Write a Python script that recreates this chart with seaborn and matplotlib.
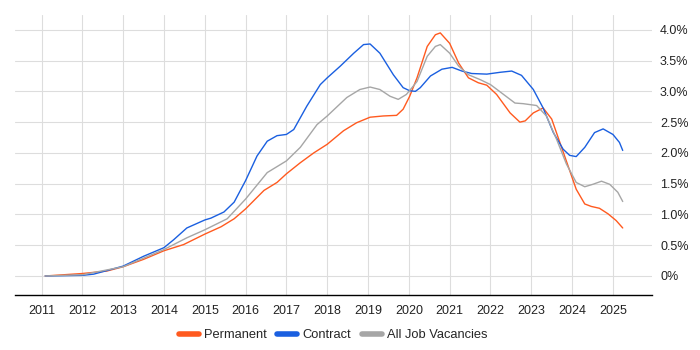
import matplotlib
matplotlib.use("Agg")
import matplotlib.pyplot as plt
import matplotlib.ticker as mticker
import pandas as pd
import seaborn as sns

# ── Values (year, percent) ────────────────────────────────────────────────────
perm_year = [2011.09, 2012.0, 2012.6, 2013.0, 2013.5, 2014.0, 2014.48, 2015.0, 2015.4,
             2015.72, 2016.0, 2016.45, 2016.77, 2017.0, 2017.34, 2017.67, 2018.0, 2018.4,
             2018.72, 2019.05, 2019.37, 2019.7, 2019.86, 2020.02, 2020.2, 2020.45, 2020.65,
             2020.77, 2021.0, 2021.22, 2021.46, 2021.7, 2021.91, 2022.15, 2022.48, 2022.72,
             2022.85, 2023.05, 2023.29, 2023.5, 2023.7, 2023.9, 2024.1, 2024.31, 2024.47,
             2024.67, 2024.88, 2025.08, 2025.24]
perm_pct = [0.0, 0.04, 0.08, 0.15, 0.27, 0.41, 0.51, 0.68, 0.80,
            0.93, 1.09, 1.39, 1.52, 1.66, 1.84, 2.00, 2.14, 2.36,
            2.49, 2.58, 2.60, 2.61, 2.71, 2.92, 3.22, 3.73, 3.92,
            3.95, 3.78, 3.46, 3.22, 3.14, 3.10, 2.95, 2.65, 2.50,
            2.52, 2.65, 2.73, 2.55, 2.17, 1.79, 1.41, 1.17, 1.13,
            1.10, 1.01, 0.90, 0.78]

contract_year = [2011.09, 2012.0, 2012.28, 2013.0, 2013.5, 2014.0, 2014.24, 2014.56, 2015.0,
                 2015.15, 2015.47, 2015.72, 2016.0, 2016.28, 2016.53, 2016.77, 2017.0, 2017.18,
                 2017.5, 2017.83, 2018.0, 2018.32, 2018.65, 2018.89, 2019.05, 2019.29, 2019.62,
                 2019.86, 2020.02, 2020.16, 2020.28, 2020.53, 2020.81, 2021.06, 2021.3, 2021.54,
                 2021.91, 2022.24, 2022.52, 2022.76, 2023.05, 2023.29, 2023.54, 2023.78, 2023.94,
                 2024.1, 2024.31, 2024.55, 2024.76, 2025.0, 2025.16, 2025.24]
contract_pct = [0.0, 0.01, 0.03, 0.16, 0.32, 0.46, 0.59, 0.78, 0.91,
                0.94, 1.04, 1.20, 1.55, 1.95, 2.19, 2.28, 2.30, 2.38,
                2.76, 3.11, 3.22, 3.41, 3.62, 3.76, 3.77, 3.62, 3.27,
                3.06, 3.01, 3.00, 3.06, 3.25, 3.36, 3.39, 3.33, 3.29,
                3.28, 3.31, 3.33, 3.26, 3.03, 2.73, 2.33, 2.06, 1.96,
                1.94, 2.09, 2.33, 2.39, 2.30, 2.17, 2.04]

all_year = [2011.09, 2012.0, 2013.0, 2014.0, 2014.56, 2015.0, 2015.55, 2016.0, 2016.53,
            2017.0, 2017.34, 2017.75, 2018.0, 2018.48, 2018.8, 2019.05, 2019.29, 2019.54,
            2019.74, 2019.94, 2020.2, 2020.45, 2020.65, 2020.77, 2021.0, 2021.22, 2021.46,
            2021.75, 2022.0, 2022.32, 2022.6, 2022.8, 2023.13, 2023.37, 2023.62, 2023.86,
            2024.1, 2024.31, 2024.51, 2024.72, 2024.92, 2025.12, 2025.24]
all_pct = [0.0, 0.02, 0.15, 0.43, 0.62, 0.75, 0.93, 1.25, 1.68,
           1.87, 2.09, 2.46, 2.60, 2.90, 3.03, 3.07, 3.03, 2.92,
           2.87, 2.95, 3.16, 3.57, 3.73, 3.76, 3.62, 3.41, 3.27,
           3.19, 3.11, 2.95, 2.81, 2.80, 2.77, 2.60, 2.22, 1.82,
           1.52, 1.45, 1.49, 1.54, 1.49, 1.36, 1.21]

years = list(range(2011, 2026))
pct_ticks = [0, 0.5, 1.0, 1.5, 2.0, 2.5, 3.0, 3.5, 4.0]

SERIES_COLORS = {
    "Permanent": "#ff5a1f",
    "Contract": "#1a5fe0",
    "All Job Vacancies": "#a6a6a6",
}

df = pd.concat([
    pd.DataFrame({"Year": perm_year, "Pct": perm_pct, "Series": "Permanent"}),
    pd.DataFrame({"Year": contract_year, "Pct": contract_pct, "Series": "Contract"}),
    pd.DataFrame({"Year": all_year, "Pct": all_pct, "Series": "All Job Vacancies"}),
], ignore_index=True)

sns.set_style("white")
plt.rcParams["font.family"] = ["Liberation Sans", "DejaVu Sans"]

fig = plt.figure(figsize=(7, 3.5), dpi=100)
ax = fig.add_axes([0.022, 0.157, 0.909, 0.8])

sns.lineplot(data=df, x="Year", y="Pct", hue="Series", palette=SERIES_COLORS,
             hue_order=["Permanent", "Contract", "All Job Vacancies"],
             sort=False, estimator=None, linewidth=1.0, ax=ax, legend=False)
for line in ax.lines:
    line.set_solid_joinstyle("round")

ax.set_xlim(2010.36, 2025.95)
ax.set_ylim(-0.31, 4.24)
ax.set_xticks(years)
ax.set_yticks(pct_ticks)
ax.yaxis.set_major_formatter(mticker.FuncFormatter(
    lambda v, _: "0%" if v == 0 else f"{v:.1f}%"))
ax.yaxis.tick_right()
ax.set_xlabel("")
ax.set_ylabel("")
ax.grid(True, color="#dddddd", linewidth=0.8)
ax.tick_params(axis="y", length=0, labelsize=9, pad=6, colors="#222222")
ax.tick_params(axis="x", length=5, width=1, direction="out", color="black",
               labelsize=9, pad=2, labelcolor="#222222")
for side in ["top", "right", "left"]:
    ax.spines[side].set_visible(False)
ax.spines["bottom"].set_color("black")
ax.spines["bottom"].set_linewidth(1.0)

handles = [plt.Line2D([0], [0], color=c, linewidth=4) for c in SERIES_COLORS.values()]
fig.legend(handles, list(SERIES_COLORS.keys()), loc="center", bbox_to_anchor=(0.476, 0.042),
           ncol=3, frameon=False, fontsize=9.3, handlelength=1.55, columnspacing=0.8,
           handletextpad=0.4)

fig.savefig("out.png", dpi=100)
